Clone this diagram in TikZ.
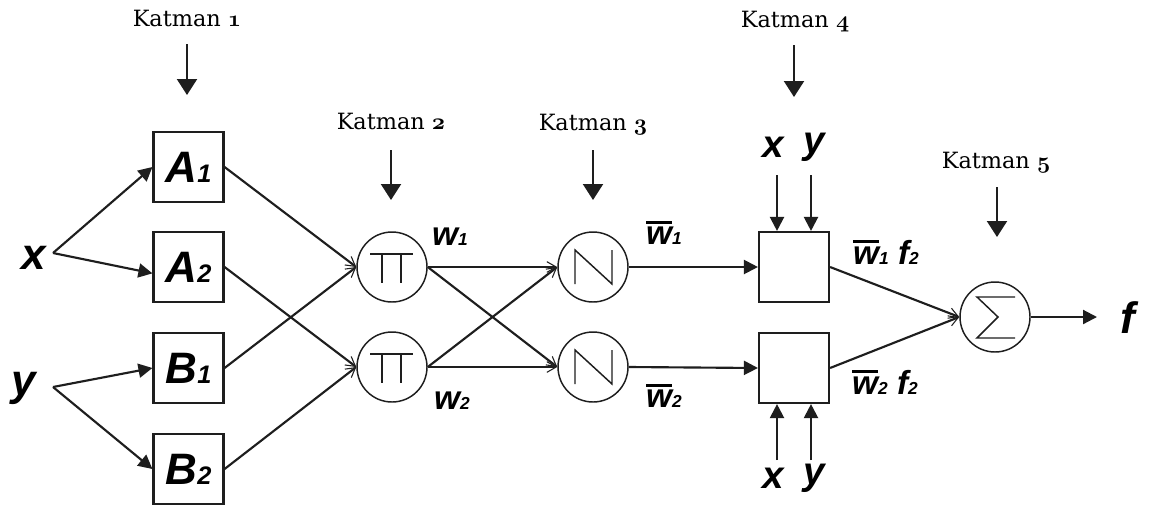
\documentclass[tikz,border=0pt]{standalone}
\usepackage{fontspec}
\newfontfamily\ar{Liberation Sans}
\newfontfamily\ser{DejaVu Serif}
\usetikzlibrary{arrows.meta}
\newcommand\bi{\ar\bfseries\itshape}
\newcommand\fs[1]{\fontsize{#1}{#1}\selectfont}
\newcommand\osn[1]{{\usefont{OML}{cmm}{b}{it}#1}}
\newcommand\wb{\leavevmode\vbox{\hrule height 2.2pt\kern 2.5pt\hbox{w}}}
\definecolor{ink}{HTML}{1E1E1E}
\begin{document}
\begin{tikzpicture}[x=0.75pt,y=-0.75pt,
  box/.style={draw=ink, line width=1.6pt, minimum size=52.5pt, inner sep=0pt},
  circ/.style={draw=ink, circle, line width=1.1pt, minimum size=52.5pt, inner sep=0pt},
  conn/.style={line width=1.6pt, draw=ink},
  solidarrow/.style={conn, -{Triangle[length=10.5pt,width=10.5pt]}},
  openarrow/.style={conn, -{Straight Barb[length=7pt,width=8pt,line width=0.8pt]}},
  katarrow/.style={conn, -{Triangle[length=12pt,width=15pt]}},
  kat/.style={font=\ser\fs{16.8}, text=black},
  sym/.style={line width=1.1pt, draw=ink},
  lbl/.style={font=\bi\fs{25}, text=black, inner sep=0pt},
  big/.style={font=\bi\fs{33}, text=black, inner sep=0pt}]
\useasboundingbox[fill=white] (0,0) rectangle (1149,508);

% layer labels
\node[kat] (K1) at (187,18) {Katman \osn{1}};
\node[kat] (K2) at (391,121) {Katman \osn{2}};
\node[kat] (K3) at (593,125) {Katman \osn{3}};
\node[kat] (K4) at (795,22) {Katman \osn{4}};
\node[kat] (K5) at (996,163) {Katman \osn{5}};
\coordinate (k1a) at (187,44); \coordinate (k1b) at (187,95);
\coordinate (k2a) at (391,150); \coordinate (k2b) at (391,200);
\coordinate (k3a) at (593,150); \coordinate (k3b) at (593,200);
\coordinate (k4a) at (794,45); \coordinate (k4b) at (794,97);
\coordinate (k5a) at (997,187); \coordinate (k5b) at (997,237);
\foreach \i in {1,...,5}{\draw[katarrow] (k\i a) -- (k\i b);}

% inputs
\node[big] (x) at (34,258) {x};
\node[big] (y) at (24,388) {y};
\coordinate (xo) at (53,253);
\coordinate (yo) at (53,387);

% layer 1
\node[box] (A1) at (188.5,167) {\bi\fs{33}A\fs{19}1};
\node[box] (A2) at (188.5,267) {\bi\fs{33}A\fs{19}2};
\node[box] (B1) at (188.5,368) {\bi\fs{33}B\fs{19}1};
\node[box] (B2) at (188.5,469) {\bi\fs{33}B\fs{19}2};

% layer 2,3
\node[circ] (P1) at (392,267) {};
\node[circ] (P2) at (392,367) {};
\node[circ] (N1) at (593,267) {};
\node[circ] (N2) at (593,367) {};
\foreach \n in {P1,P2}{
  \draw[sym] ([shift={(-22,-13)}]\n.center) -- ([shift={(21,-13)}]\n.center);
  \draw[sym] ([shift={(-10,-13)}]\n.center) -- ([shift={(-10,16)}]\n.center);
  \draw[sym] ([shift={(9,-13)}]\n.center) -- ([shift={(9,16)}]\n.center);
}
\foreach \n in {N1,N2}{
  \draw[sym] ([shift={(-18,17)}]\n.center) -- ([shift={(-18,-17)}]\n.center)
    -- ([shift={(19,17)}]\n.center) -- ([shift={(19,-17)}]\n.center);
}

% layer 4
\node[box] (S1) at (794,267) {};
\node[box] (S2) at (794,368) {};

% layer 5
\node[circ] (Sg) at (995,317) {};
\draw[sym] ([shift={(20,-20)}]Sg.center) -- ([shift={(-18,-20)}]Sg.center)
  -- ([shift={(3,0)}]Sg.center) -- ([shift={(-18,21)}]Sg.center) -- ([shift={(20,21)}]Sg.center);

% labels
\node[lbl] (w1) at (450,237) {w\fs{13}1};
\node[lbl] (w2) at (452,401) {w\fs{13}2};
\node[lbl] (wb1) at (664,233) {\wb\fs{13}1};
\node[lbl] (wb2) at (664,396) {\wb\fs{13}2};
\node[lbl] (wf1) at (886,252) {\wb\fs{13}1\fs{25} f\fs{13}2};
\node[lbl] (wf2) at (885,382) {\wb\fs{13}2\fs{25} f\fs{13}2};
\node[lbl, font=\bi\fs{29}] (xt) at (773,147) {x};
\node[lbl, font=\bi\fs{29}] (yt) at (814,147) {y};
\node[lbl, font=\bi\fs{29}] (xb) at (773,478) {x};
\node[lbl, font=\bi\fs{29}] (yb) at (814,478) {y};
\node[big] (f) at (1128,318) {f};
\coordinate (xta) at (777,175);
\coordinate (yta) at (811,175);
\coordinate (xba) at (777,460);
\coordinate (yba) at (811,460);
\coordinate (fo) at (1097,317);

% connectors
\draw[solidarrow] (xo) -- (A1.west);
\draw[solidarrow] (xo) -- (A2.190);
\draw[solidarrow] (yo) -- (B1.west);
\draw[solidarrow] (yo) -- (B2.west);
\draw[openarrow] (A1.east) -- (P1.west);
\draw[openarrow] (A2.east) -- (P2.west);
\draw[openarrow] (B1.east) -- (P1.west);
\draw[openarrow] (B2.east) -- (P2.west);
\draw[openarrow] (P1.east) -- (N1.west);
\draw[openarrow] (P1.east) -- (N2.west);
\draw[openarrow] (P2.east) -- (N1.west);
\draw[openarrow] (P2.east) -- (N2.west);
\draw[solidarrow] (N1.east) -- (S1.west);
\draw[solidarrow] (N2.east) -- (S2.west);
\draw[solidarrow] (xta) -- (xta |- S1.north);
\draw[solidarrow] (yta) -- (yta |- S1.north);
\draw[solidarrow] (xba) -- (xba |- S2.south);
\draw[solidarrow] (yba) -- (yba |- S2.south);
\draw[openarrow] (S1.east) -- (Sg.west);
\draw[openarrow] (S2.east) -- (Sg.west);
\draw[solidarrow] (Sg.east) -- (fo);
\end{tikzpicture}
\end{document}
